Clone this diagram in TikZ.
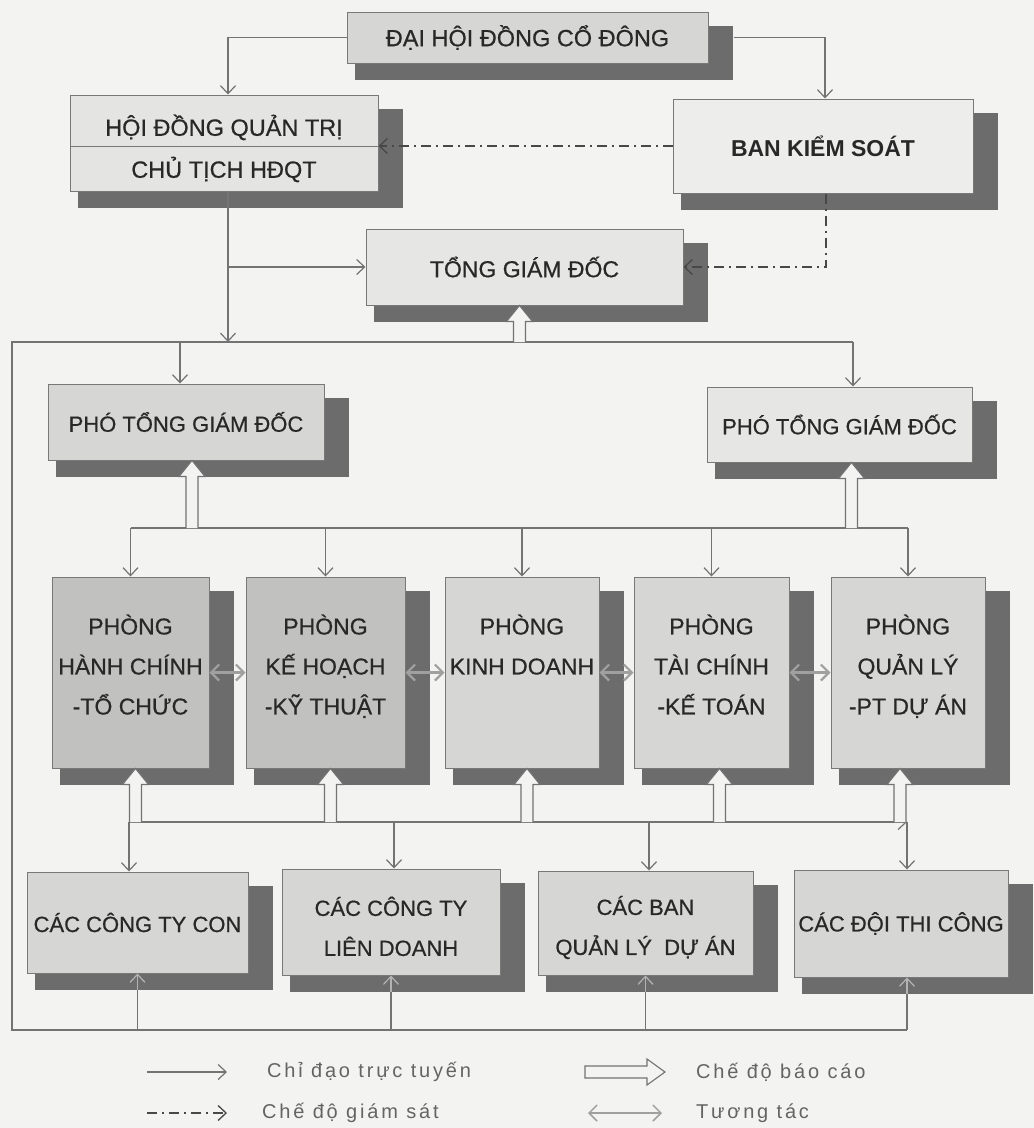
\documentclass[tikz,border=0pt]{standalone}
\usepackage{fontspec}
\setmainfont{Liberation Sans}
\usetikzlibrary{arrows.meta,calc}
\definecolor{paper}{RGB}{243,243,242}
\definecolor{boxfill}{RGB}{214,214,212}
\definecolor{boxline}{RGB}{120,120,120}
\definecolor{shadowc}{RGB}{108,108,108}
\definecolor{linec}{RGB}{115,115,115}
\definecolor{textc}{RGB}{40,40,40}
\definecolor{legc}{RGB}{100,100,100}
\definecolor{interc}{RGB}{160,160,160}
\pgfdeclarelayer{paperlayer}
\pgfdeclarelayer{shadelayer}
\pgfsetlayers{paperlayer,shadelayer,main}
\newcommand\lowpad{\rule[-16pt]{0pt}{0pt}}
\newcommand\highpad[1]{\rule{0pt}{#1}}
\newcommand\repup[2]{%
  \draw[report] let \p1=(#1), \p2=(#2) in
   (\x1-6pt,\y1) -- (\x1-6pt,\y2-16pt) -- (\x1-13pt,\y2-16pt) -- (\x1,\y2)
   -- (\x1+13pt,\y2-16pt) -- (\x1+6pt,\y2-16pt) -- (\x1+6pt,\y1);}
\newcommand\repright[2]{%
  \draw[report] let \p1=(#1), \p2=(#2) in
   (\x1,\y1+6pt) -- (\x2-18pt,\y1+6pt) -- (\x2-18pt,\y1+13pt) -- (\x2,\y1)
   -- (\x2-18pt,\y1-13pt) -- (\x2-18pt,\y1-6pt) -- (\x1,\y1-6pt) -- cycle;}
\tikzset{
  box/.style={draw=boxline, line width=1pt, fill=boxfill, inner sep=0pt, align=center,
    text=textc, font=\fontsize{22}{40}\selectfont\addfontfeature{FakeBold=0.6}},
  dept/.style={box, minimum height=191pt, font=\fontsize{23}{40}\selectfont\addfontfeature{FakeBold=0.6}},
  conn/.style={draw=linec, line width=1.2pt, -{Straight Barb[length=8pt,width=15pt]}},
  plain/.style={draw=linec, line width=1.2pt},
  faint/.style={draw=interc!80, line width=1.2pt, -{Straight Barb[length=8pt,width=15pt]}},
  sup/.style={draw=textc!85, line width=1.3pt, dash pattern=on 10pt off 5pt on 2pt off 5pt,
    -{Straight Barb[length=8pt,width=15pt]}},
  report/.style={draw=linec, line width=1.1pt, fill=paper},
  inter/.style={draw=interc, line width=2.2pt,
    {Straight Barb[length=8pt,width=16pt]}-{Straight Barb[length=8pt,width=16pt]}},
  legtext/.style={anchor=west, inner sep=0pt, text=legc,
    font=\fontsize{20}{22}\selectfont\addfontfeature{LetterSpace=14}},
}
\begin{document}
\begin{tikzpicture}[x=1pt,y=-1pt]
\begin{pgfonlayer}{paperlayer}
  \fill[paper] (0,0) rectangle (1034,1128);
\end{pgfonlayer}
\useasboundingbox (0,0) rectangle (1034,1128);

% boxes
\node[box, minimum width=361pt, minimum height=51pt, font=\fontsize{23.5}{40}\selectfont\addfontfeature{FakeBold=0.6}] (dhd) at (527.5,37.5) {ĐẠI HỘI ĐỒNG CỔ ĐÔNG};
\node[box, minimum width=308pt, minimum height=96pt, fill=boxfill!65!white, font=\fontsize{23.5}{42}\selectfont\addfontfeature{FakeBold=0.6}] (hdqt) at (224,143) {\highpad{32pt}HỘI ĐỒNG QUẢN TRỊ\\CHỦ TỊCH HĐQT};
\node[box, minimum width=300pt, minimum height=94pt, fill=boxfill!45!white, font=\fontsize{23}{40}\selectfont\bfseries] (bks) at (823,146) {BAN KIỂM SOÁT};
\node[box, minimum width=317pt, minimum height=76pt, fill=boxfill!60!white, font=\fontsize{23}{40}\selectfont\addfontfeature{FakeBold=0.6}] (tgd) at (524.5,267) {TỔNG GIÁM ĐỐC};
\node[box, minimum width=276pt, minimum height=76pt] (ptl) at (186,422) {PHÓ TỔNG GIÁM ĐỐC};
\node[box, minimum width=265pt, minimum height=75pt, fill=boxfill!60!white] (ptr) at (839.5,424.5) {PHÓ TỔNG GIÁM ĐỐC};

\node[dept, minimum width=157pt, fill=boxfill!90!black] (d1) at (130.5,672.5) {PHÒNG\\HÀNH CHÍNH\\-TỔ CHỨC\lowpad};
\node[dept, minimum width=159pt, fill=boxfill!90!black] (d2) at (325.5,672.5) {PHÒNG\\KẾ HOẠCH\\-KỸ THUẬT\lowpad};
\node[dept, minimum width=154pt] (d3) at (522,672.5) {PHÒNG\\KINH DOANH\\\lowpad};
\node[dept, minimum width=155pt] (d4) at (711.5,672.5) {PHÒNG\\TÀI CHÍNH\\-KẾ TOÁN\lowpad};
\node[dept, minimum width=154pt] (d5) at (908,672.5) {PHÒNG\\QUẢN LÝ\\-PT DỰ ÁN\lowpad};

\node[box, minimum width=221pt, minimum height=101pt] (b1) at (137.5,922.5) {CÁC CÔNG TY CON};
\node[box, minimum width=218pt, minimum height=106pt] (b2) at (391,922) {\highpad{28pt}CÁC CÔNG TY\\LIÊN DOANH};
\node[box, minimum width=215pt, minimum height=104pt] (b3) at (645.5,923) {\highpad{28pt}CÁC BAN\\QUẢN LÝ~~DỰ ÁN};
\node[box, minimum width=214pt, minimum height=107pt] (b4) at (901,923.5) {CÁC ĐỘI THI CÔNG};

\draw[boxline, line width=1pt] ([yshift=-3pt]hdqt.west) -- ([yshift=-3pt]hdqt.east);

% shadows
\begin{pgfonlayer}{shadelayer}
  \foreach \n in {dhd,hdqt,bks,tgd,ptl,ptr,d1,d2,d3,d4,d5,b1,b2,b3,b4}
    \fill[shadowc] ([xshift=8pt,yshift=-16pt]\n.south west) rectangle ([xshift=24pt,yshift=-14pt]\n.north east);
\end{pgfonlayer}

% frame coordinates
\coordinate (ftl) at (12,342);
\coordinate (ftr) at (853,342);
\coordinate (fbl) at (12,1030);
\coordinate (fbr) at (907,1030);
\coordinate (ub) at (0,528);
\coordinate (lb) at (0,822);
\coordinate (lv1) at (129,822);
\coordinate (lv2) at (394,822);
\coordinate (lv3) at (649,822);
\coordinate (lv4) at (907,822);
\coordinate (s1) at ([yshift=-16pt]b1.south);
\coordinate (s2) at ([yshift=-16pt]b2.south);
\coordinate (s3) at ([yshift=-16pt]b3.south);
\coordinate (s4) at ([yshift=-16pt]b4.south);

% top connectors
\draw[conn] (dhd.west) -| ([xshift=4pt]hdqt.north);
\draw[conn] ([xshift=25pt]dhd.east) -| ([xshift=2pt]bks.north);
\draw[conn] ([xshift=4pt]hdqt.south) -- ([xshift=4pt]hdqt.south |- ftl);
\draw[conn] ([xshift=4pt]hdqt.south |- tgd.west) -- (tgd.west);
\draw[sup] (bks.west) -- (bks.west -| hdqt.east);
\draw[sup] ([xshift=3pt]bks.south) |- (tgd.east);

% frame
\draw[plain] (ftr) -- (ftl) -- (fbl) -- (fbr);
\draw[conn] ([xshift=-6pt]ptl.north |- ftl) -- ([xshift=-6pt]ptl.north);
\draw[conn] (ftr) -- (ftr |- ptr.north);
\repup{[xshift=-5pt]tgd.south |- ftl}{[xshift=-5pt]tgd.south}

% department bar
\draw[plain] (d1.north |- ub) -- (d5.north |- ub);
\foreach \n in {d1,d2,d3,d4,d5}
  \draw[conn] (\n.north |- ub) -- (\n.north);
\repup{[xshift=6pt]ptl.south |- ub}{[xshift=6pt]ptl.south}
\repup{[xshift=12pt]ptr.south |- ub}{[xshift=12pt]ptr.south}

% interactions
\draw[inter] (d1.east) -- (d2.west);
\draw[inter] (d2.east) -- (d3.west);
\draw[inter] (d3.east) -- (d4.west);
\draw[inter] (d4.east) -- (d5.west);

% lower bar
\draw[conn] (lv1) -- (lv4);
\draw[conn] (lv1) -- (lv1 |- b1.north);
\draw[conn] (lv2) -- (lv2 |- b2.north);
\draw[conn] (lv3) -- (lv3 |- b3.north);
\draw[conn] (lv4) -- (lv4 |- b4.north);
\repup{[xshift=5pt]d1.south |- lb}{[xshift=5pt]d1.south}
\repup{[xshift=5pt]d2.south |- lb}{[xshift=5pt]d2.south}
\repup{[xshift=5pt]d3.south |- lb}{[xshift=5pt]d3.south}
\repup{[xshift=8pt]d4.south |- lb}{[xshift=8pt]d4.south}
\repup{[xshift=-8pt]d5.south |- lb}{[xshift=-8pt]d5.south}

% bottom risers (faint where they cross the shadows)
\draw[plain] (s1 |- fbl) -- (s1);
\draw[plain] (s2 |- fbl) -- (s2);
\draw[plain] (s3 |- fbl) -- (s3);
\draw[plain] (fbr) -- (fbr |- s4);
\draw[faint] (s1) -- (b1.south);
\draw[faint] (s2) -- (b2.south);
\draw[faint] (s3) -- (b3.south);
\draw[faint] (fbr |- s4) -- (fbr |- b4.south);

% legend
\coordinate (l1a) at (147,1072);
\coordinate (l1b) at (227,1072);
\coordinate (l2a) at (147,1113);
\coordinate (l2b) at (227,1113);
\coordinate (l3a) at (585,1072);
\coordinate (l3b) at (665,1072);
\coordinate (l4a) at (588,1113);
\coordinate (l4b) at (662,1113);
\draw[conn] (l1a) -- (l1b);
\draw[sup] (l2a) -- (l2b);
\repright{l3a}{l3b}
\draw[inter, line width=1.5pt] (l4a) -- (l4b);
\node[legtext] (lt1) at (267,1072) {Chỉ đạo trực tuyến};
\node[legtext] (lt2) at (262,1113) {Chế độ giám sát};
\node[legtext] (lt3) at (696,1072) {Chế độ báo cáo};
\node[legtext] (lt4) at (696,1113) {Tương tác};
\end{tikzpicture}
\end{document}
